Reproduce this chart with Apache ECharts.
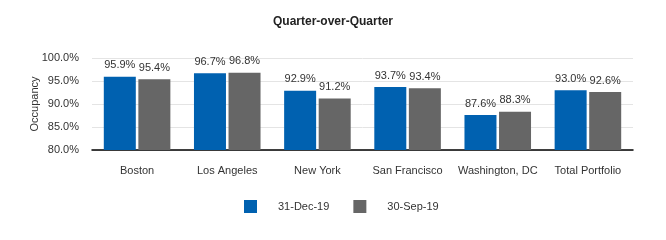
<!DOCTYPE html>
<html>
<head>
<meta charset="utf-8">
<script src="https://cdn.jsdelivr.net/npm/echarts@6/dist/echarts.min.js"></script>
<style>
  html, body { margin: 0; padding: 0; background: #fff; }
  #chart { width: 666px; height: 240px; }
</style>
</head>
<body>
<div id="chart"></div>
<script>
// markets along the x axis
const categories = ["Boston", "Los Angeles", "New York", "San Francisco", "Washington, DC", "Total Portfolio"];
// occupancy %
const dec19 = [95.9, 96.7, 92.9, 93.7, 87.6, 93.0];
const sep19 = [95.4, 96.8, 91.2, 93.4, 88.3, 92.6];
const yTicks = [80, 85, 90, 95, 100];

const font = "Liberation Sans, Arial, sans-serif";
const chart = echarts.init(document.getElementById("chart"));

const barLabel = {
    show: true,
    position: "top",
    distance: 6,
    fontSize: 11,
    fontFamily: font,
    color: "#333",
    formatter: p => p.value.toFixed(1) + "%"
};

chart.setOption({
    animation: false,
    title: {
        text: "Quarter-over-Quarter",
        left: "center",
        top: 11,
        textStyle: { fontSize: 12, fontWeight: "bold", fontFamily: font, color: "#222" }
    },
    legend: {
        top: 195,
        left: 239,
        itemWidth: 13,
        itemHeight: 13,
        itemGap: 24,
        icon: "rect",
        textStyle: { fontSize: 11, fontFamily: font, color: "#333", padding: [0, 0, 0, 16] },
        data: ["31-Dec-19", "30-Sep-19"]
    },
    grid: { left: 92, right: 33, top: 58, height: 92 },
    xAxis: {
        type: "category",
        data: categories,
        axisLine: { lineStyle: { color: "#000", width: 1.5 } },
        axisTick: { alignWithLabel: true, length: 5, lineStyle: { color: "#000" } },
        axisLabel: { interval: 0, margin: 15, fontSize: 11, fontFamily: font, color: "#333" }
    },
    yAxis: {
        type: "value",
        min: yTicks[0],
        max: yTicks[yTicks.length - 1],
        interval: 5,
        name: "Occupancy",
        nameLocation: "middle",
        nameGap: 52,
        nameMoveOverlap: false,
        nameTextStyle: { fontSize: 11, fontFamily: font, color: "#333" },
        axisLine: { show: false },
        axisTick: { show: false },
        splitLine: { lineStyle: { color: "#e4e4e4" } },
        axisLabel: { margin: 13, fontSize: 11, fontFamily: font, color: "#333", formatter: v => v.toFixed(1) + "%" }
    },
    series: [
        {
            name: "31-Dec-19",
            type: "bar",
            data: dec19,
            barWidth: 32,
            barGap: "8%",
            itemStyle: { color: "#0061b0" },
            label: barLabel
        },
        {
            name: "30-Sep-19",
            type: "bar",
            data: sep19,
            barWidth: 32,
            itemStyle: { color: "#666666" },
            label: barLabel
        }
    ]
});
</script>
</body>
</html>
